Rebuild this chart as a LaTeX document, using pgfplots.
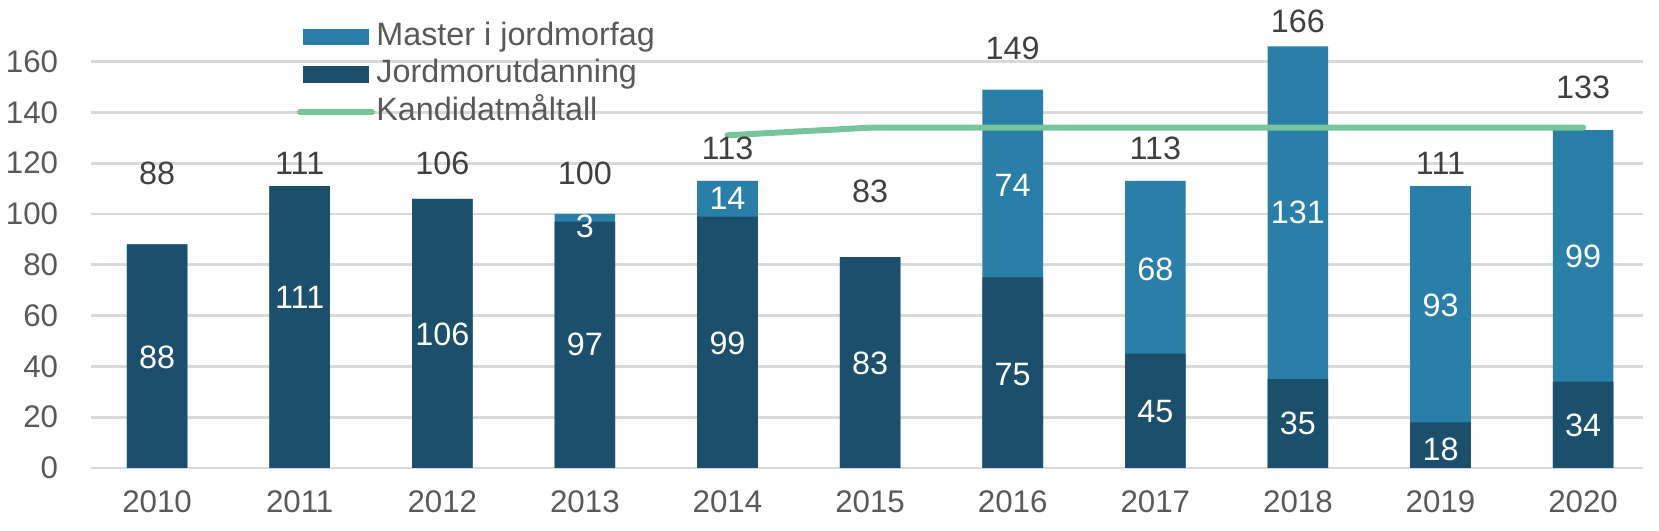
\documentclass[border=0pt]{standalone}
\usepackage{pgfplots}
\pgfplotsset{compat=1.18}
\usepackage{pgfplotstable}
\usepackage{fontspec}
\setmainfont{Liberation Sans}

\definecolor{master}{HTML}{2A7FA8}
\definecolor{jordmor}{HTML}{1B4F6B}
\definecolor{maal}{HTML}{76C59B}
\definecolor{ticktext}{HTML}{595959}
\definecolor{labtext}{HTML}{404040}
\definecolor{gridgray}{HTML}{D9D9D9}

% x = 0..10 for 2010..2020
\pgfplotstableread{
x jord total
0 88 88
1 111 111
2 106 106
3 97 100
4 99 113
5 83 83
6 75 149
7 45 113
8 35 166
9 18 111
10 34 133
}\bars

% labels inside the bars (y = where the label sits)
\pgfplotstableread{
x y lab
0 43.6 88
1 67 111
2 52.8 106
3 48.6 97
3 95 3
4 49 99
4 106 14
5 41 83
6 36.9 75
6 111.4 74
7 22.2 45
7 78.3 68
8 17.6 35
8 100.5 131
9 7.5 18
9 64 93
10 16.8 34
10 83.3 99
}\innerlabels

% totals above the bars
\pgfplotstableread{
x y lab
0 116 88
1 120 111
2 120 106
3 116 100
4 125.7 113
5 109 83
6 165.4 149
7 125.7 113
8 176 166
9 120 111
10 150 133
}\totallabels

\begin{document}
\begin{tikzpicture}[x=1mm,y=1mm]
\useasboundingbox (0,0) rectangle (165.9,53.1);
\begin{axis}[
    at={(9.15mm,6.3mm)}, anchor=south west,
    scale only axis,
    width=155.15mm, height=45.72mm,
    xmin=-0.46, xmax=10.42,
    ymin=0, ymax=180,
    axis line style={draw=none},
    major tick length=0pt,
    xtick={0,...,10},
    xticklabels={2010,2011,2012,2013,2014,2015,2016,2017,2018,2019,2020},
    ytick={0,20,...,160},
    ymajorgrids,
    grid style={gridgray, line width=0.77pt},
    tick label style={font=\fontsize{8.9}{10}\selectfont, text=ticktext},
    /pgf/number format/assume math mode=true,
    yticklabel style={xshift=-2.1mm},
    xticklabel style={yshift=-1.0mm},
    legend style={
        at={(axis description cs:0.132,0.985)}, anchor=north west,
        draw=none, fill=none, inner sep=0pt,
        font=\fontsize{9.2}{10}\selectfont, text=ticktext,
        nodes={inner xsep=0.4pt, text height=2.4mm, text depth=0.75mm, inner ysep=0.3mm},
        legend cell align=left,
    },
    clip=false,
]
\addplot[ybar, bar width=6.06mm, bar shift=0pt, fill=master, draw=none,
    legend image code/.code={\fill[master] (0mm,-0.83mm) rectangle (6.6mm,0.83mm);}]
    table[x=x, y=total] {\bars};
\addlegendentry{Master i jordmorfag}
\addplot[ybar, bar width=6.06mm, bar shift=0pt, fill=jordmor, draw=none,
    legend image code/.code={\fill[jordmor] (0mm,-0.83mm) rectangle (6.6mm,0.83mm);}]
    table[x=x, y=jord] {\bars};
\addlegendentry{Jordmorutdanning}
\addplot[maal, line width=1.7pt, line cap=round, mark=none,
    legend image code/.code={\draw[maal, line width=1.7pt, line cap=round] (-0.3mm,0mm) -- (6.9mm,0mm);}]
    coordinates {(4,131) (5,134) (6,134) (7,134) (8,134) (9,134) (10,134)};
\addlegendentry{Kandidatmåltall}

\addplot[draw=none, mark=none, forget plot,
    nodes near coords={\pgfplotspointmeta},
    point meta=explicit symbolic,
    every node near coord/.style={anchor=center, text=white, font=\fontsize{9.2}{10}\selectfont}]
    table[x=x, y=y, meta=lab] {\innerlabels};
\addplot[draw=none, mark=none, forget plot,
    nodes near coords={\pgfplotspointmeta},
    point meta=explicit symbolic,
    every node near coord/.style={anchor=center, text=labtext, font=\fontsize{9.2}{10}\selectfont}]
    table[x=x, y=y, meta=lab] {\totallabels};
\end{axis}
\end{tikzpicture}
\end{document}
